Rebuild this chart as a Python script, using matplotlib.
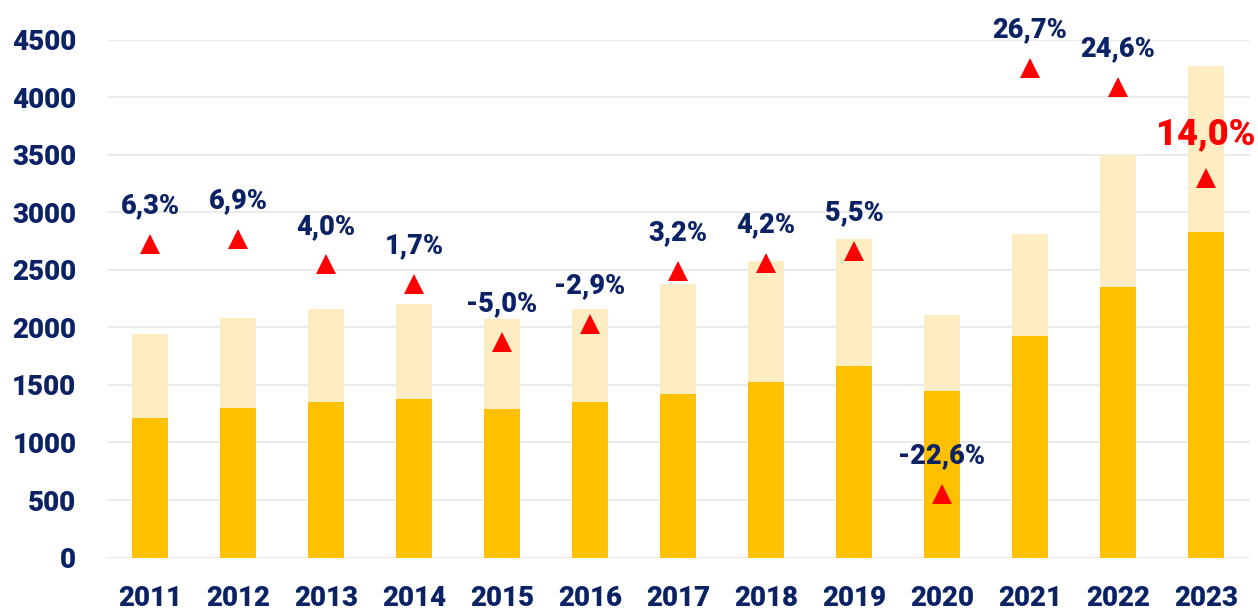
import numpy as np
import matplotlib.pyplot as plt

# Values
years = ["2011", "2012", "2013", "2014", "2015", "2016", "2017",
         "2018", "2019", "2020", "2021", "2022", "2023"]
lower = [1217, 1302, 1356, 1377, 1295, 1353, 1424, 1526, 1662, 1445, 1929, 2347, 2825]
total = [1946, 2082, 2163, 2201, 2075, 2163, 2380, 2577, 2770, 2109, 2811, 3500, 4273]
marker_y = [2723, 2767, 2547, 2377, 1872, 2031, 2489, 2564, 2662, 556, 4256, 4090, 3299]
growth = ["6,3%", "6,9%", "4,0%", "1,7%", "-5,0%", "-2,9%", "3,2%",
          "4,2%", "5,5%", "-22,6%", "26,7%", "24,6%", "14,0%"]

navy = "#0B2265"
red = "#FF0000"
dark_yellow = "#FFC000"
light_yellow = "#FEEDC2"

plt.rcParams['font.family'] = ['Roboto', 'DejaVu Sans']
plt.rcParams['font.weight'] = 'black'

fig = plt.figure(figsize=(12.58, 6.12), dpi=100)
ax = fig.add_axes([0.085, 0.089, 0.9086, 0.846])

x = np.arange(len(years))
upper = [t - l for t, l in zip(total, lower)]
ax.bar(x, lower, width=0.4, color=dark_yellow, zorder=2)
ax.bar(x, upper, bottom=lower, width=0.4, color=light_yellow, zorder=2)

ax.plot(x, marker_y, linestyle='none', marker='^', markersize=15,
        color=red, markeredgewidth=0, zorder=3)

for i, (xi, yi, lab) in enumerate(zip(x, marker_y, growth)):
    last = i == len(years) - 1
    ax.annotate(lab, (xi, yi), xytext=(0, 22 if not last else 24),
                textcoords='offset points', ha='center', va='baseline',
                fontsize=26 if last else 19.5, fontweight='black',
                color=red if last else navy, annotation_clip=False, zorder=4)

ax.set_xlim(-0.49, 12.5)
ax.set_ylim(0, 4500)
ax.set_yticks(np.arange(0, 4501, 500))
ax.set_xticks(x)
ax.set_xticklabels(years)
ax.yaxis.grid(True, color="#EBEBEB", linewidth=1.5, zorder=0)
ax.set_axisbelow(True)
for s in ax.spines.values():
    s.set_visible(False)
ax.tick_params(axis='both', length=0, labelsize=20, labelcolor=navy)
ax.tick_params(axis='y', pad=22)
ax.tick_params(axis='x', pad=20)

fig.savefig("out.png", dpi=100)
